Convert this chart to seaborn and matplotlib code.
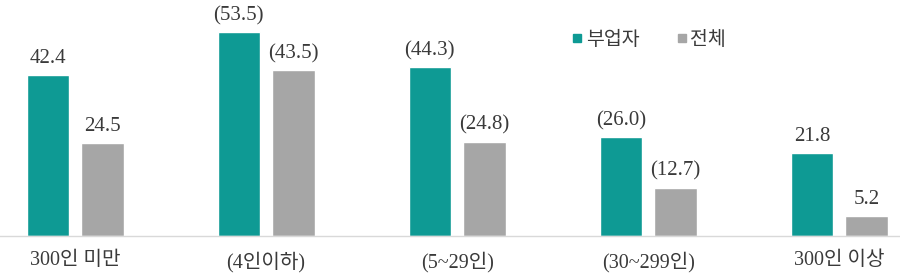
import matplotlib
matplotlib.use("Agg")
import matplotlib.pyplot as plt
import seaborn as sns
import pandas as pd
from matplotlib.lines import Line2D

categories = ["300인 미만", "(4인이하)", "(5~29인)", "(30~299인)", "300인 이상"]
series_names = ["부업자", "전체"]
side_job = [42.4, 53.5, 44.3, 26.0, 21.8]
total = [24.5, 43.5, 24.8, 12.7, 5.2]
side_labels = ["42.4", "(53.5)", "(44.3)", "(26.0)", "21.8"]
total_labels = ["24.5", "(43.5)", "(24.8)", "(12.7)", "5.2"]
colors = ["#0E9A94", "#A6A6A6"]

df = pd.DataFrame({
    "cat": categories * 2,
    "series": [series_names[0]] * 5 + [series_names[1]] * 5,
    "value": side_job + total,
})

sns.set_theme(style="white")
fam = ["Liberation Serif", "Noto Sans CJK KR"]
plt.rcParams["font.family"] = fam

fig = plt.figure(figsize=(9, 2.73), dpi=100)
ax = fig.add_axes([0, 37 / 273, 1, 1 - 37 / 273])

sns.barplot(data=df, x="cat", y="value", hue="series", order=categories,
            hue_order=series_names, palette=colors, width=0.57, gap=0.22,
            saturation=1, legend=False, ax=ax)

labels_all = [side_labels, total_labels]
for container, labs in zip(ax.containers, labels_all):
    ax.bar_label(container, labels=labs, padding=5, fontsize=15,
                 color="#3A3A3A", family=fam)

ax.set_xlim(-0.393, 4.319)
ax.set_ylim(0, 62)
ax.set_xlabel("")
ax.set_ylabel("")
ax.set_yticks([])
ax.tick_params(axis="x", length=0, pad=11, labelsize=14.5, labelcolor="#3A3A3A")
for lab in ax.get_xticklabels():
    lab.set_family(fam)
for s in ["top", "left", "right"]:
    ax.spines[s].set_visible(False)
ax.spines["bottom"].set_color("#D9D9D9")
ax.spines["bottom"].set_linewidth(1)

handles = [Line2D([], [], marker="s", linestyle="none", markersize=6,
                  color=c) for c in colors]
leg = fig.legend(handles, series_names, loc="center left",
                 bbox_to_anchor=(555 / 900, 1 - 40 / 273), ncol=2,
                 frameon=False, handlelength=0.5, handletextpad=0.2,
                 columnspacing=1.9, prop={"family": fam, "size": 14})
for t in leg.get_texts():
    t.set_color("#3A3A3A")

fig.savefig("out.png", dpi=100)
